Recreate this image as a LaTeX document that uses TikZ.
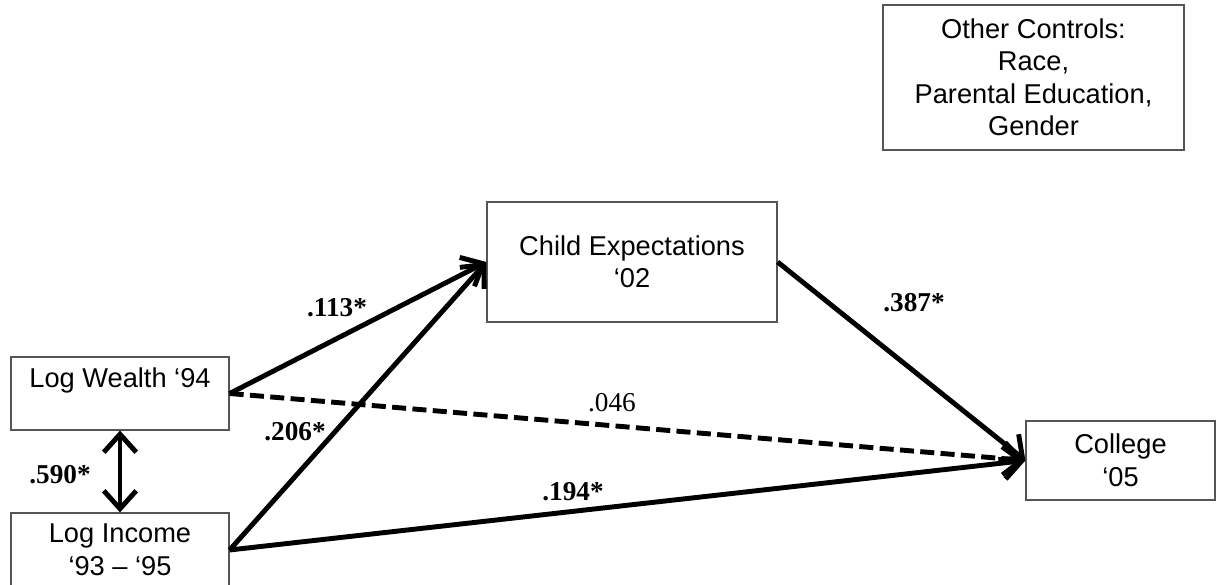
\documentclass[tikz,border=0pt]{standalone}
\usepackage{fontspec}
\setmainfont{Liberation Sans}
\newfontfamily\coeffont{Liberation Serif}
\usepackage{tikz}
\usetikzlibrary{arrows.meta, positioning}
\definecolor{boxline}{HTML}{555555}

\begin{document}
\begin{tikzpicture}[
    var/.style={draw=boxline, line width=0.7pt, minimum width=#1, align=center, font=\fontsize{15.5}{18.5}\selectfont},
    effect/.style={line width=2.8pt, -{Straight Barb[length=3.6mm, width=6.5mm, line width=2.8pt]}},
    coef/.style={font=\coeffont\bfseries\fontsize{15.5}{17}\selectfont},
]
    \clip (0,0) rectangle (24.36,11.7);

    \node[var=4.36cm, minimum height=1.46cm] (wealth) at (2.4, 3.83) {Log Wealth ‘94\\ \mbox{}};
    \node[var=4.36cm, minimum height=1.48cm] (income) at (2.4, 0.70) {Log Income\\ ‘93 – ‘95\hspace{0.35cm}};
    \node[var=5.8cm, minimum height=2.4cm] (child) at (12.64, 6.46) {Child Expectations\\ ‘02};
    \node[var=3.78cm, minimum height=1.58cm] (college) at (22.41, 2.49) {College\\ ‘05};
    \node[var=6.02cm, minimum height=2.9cm] (controls) at (20.67, 10.15) {Other Controls:\\ Race,\\ Parental Education,\\ Gender};

    \draw[effect] (wealth.east) -- (child.west);
    \draw[effect] (income.east) -- (child.west);
    \draw[effect] (child.east) -- (college.west);
    \draw[effect] (income.east) -- (college.west);
    \draw[effect, dash pattern=on 8pt off 3.6pt] (wealth.east) -- (college.west);
    \draw[effect, {Straight Barb[length=3.6mm, width=6.5mm, line width=2.8pt]}-{Straight Barb[length=3.6mm, width=6.5mm, line width=2.8pt]}] (wealth.south) -- (income.north);

    \node[coef] (c113) at (6.74, 5.54) {.113*};
    \node[coef] (c206) at (5.90, 3.06) {.206*};
    \node[coef, font=\coeffont\fontsize{15.5}{17}\selectfont] (c046) at (12.24, 3.64) {.046};
    \node[coef] (c387) at (18.28, 5.64) {.387*};
    \node[coef] (c194) at (11.46, 1.86) {.194*};
    \node[coef] (c590) at (1.20, 2.20) {.590*};
\end{tikzpicture}
\end{document}
